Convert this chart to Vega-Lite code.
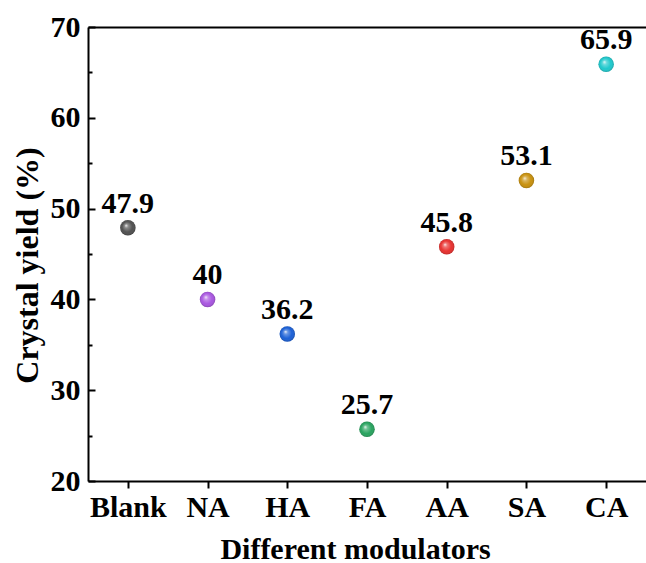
{
  "$schema": "https://vega.github.io/schema/vega-lite/v6.json",
  "autosize": {"type": "none"},
  "padding": {"left": 88, "top": 27, "right": 0, "bottom": 82},
  "width": 558,
  "height": 454,
  "background": "white",
  "config": {
    "view": {"stroke": null},
    "font": "Liberation Serif",
    "axis": {"labelFont": "Liberation Serif", "titleFont": "Liberation Serif", "labelFontWeight": "bold", "titleFontWeight": "bold", "labelColor": "black", "titleColor": "black", "domainColor": "black", "tickColor": "black", "grid": false}
  },
  "data": {"values": [
    {"modulator": "Blank", "yield": 47.9},
    {"modulator": "NA", "yield": 40},
    {"modulator": "HA", "yield": 36.2},
    {"modulator": "FA", "yield": 25.7},
    {"modulator": "AA", "yield": 45.8},
    {"modulator": "SA", "yield": 53.1},
    {"modulator": "CA", "yield": 65.9}
  ]},
  "resolve": {"axis": {"x": "independent", "y": "independent"}},
  "layer": [
    {
      "mark": {"type": "point", "filled": true, "opacity": 1, "size": 240},
      "encoding": {
        "x": {"field": "modulator", "type": "nominal", "sort": null,
          "scale": {"type": "point", "padding": 0.5},
          "axis": {"orient": "bottom", "title": "Different modulators", "labelAngle": 0, "labelFontSize": 30, "titleFontSize": 30, "domainWidth": 2, "tickWidth": 2, "tickSize": 7, "labelPadding": 4, "titlePadding": 12, "titleX": 267}},
        "y": {"field": "yield", "type": "quantitative",
          "scale": {"domain": [20, 70], "nice": false, "zero": false},
          "axis": {"orient": "left", "title": "Crystal yield (%)", "values": [20, 25, 30, 35, 40, 45, 50, 55, 60, 65, 70], "labelExpr": "datum.value % 10 === 0 ? datum.label : ''", "labelFontSize": 30, "titleFontSize": 32, "domainWidth": 2, "tickWidth": 2, "tickSize": {"condition": {"test": "datum.value % 10 === 0", "value": -7}, "value": -4}, "labelPadding": 15, "titlePadding": 6, "titleY": 238}},
        "color": {"field": "modulator", "type": "nominal", "sort": null, "legend": null,
          "scale": {"domain": ["Blank", "NA", "HA", "FA", "AA", "SA", "CA"], "range": ["#505050", "#a855e0", "#1a5fd6", "#27a35e", "#e8302e", "#c8900c", "#1ec8cc"]}}
      }
    },
    {
      "mark": {"type": "point", "filled": true, "opacity": 1, "size": 240, "fill": {"gradient": "radial", "x1": 0.38, "y1": 0.35, "r1": 0, "x2": 0.5, "y2": 0.5, "r2": 0.5, "stops": [{"offset": 0, "color": "rgba(255,255,255,0.95)"}, {"offset": 0.25, "color": "rgba(255,255,255,0.35)"}, {"offset": 0.7, "color": "rgba(255,255,255,0)"}, {"offset": 1, "color": "rgba(0,0,0,0.2)"}]}},
      "encoding": {
        "x": {"field": "modulator", "type": "nominal", "sort": null,
          "axis": {"orient": "top", "title": null, "labels": false, "ticks": false, "domainWidth": 2}},
        "y": {"field": "yield", "type": "quantitative", "axis": null}
      }
    },
    {
      "mark": {"type": "text", "fontSize": 30, "fontWeight": "bold", "font": "Liberation Serif", "baseline": "alphabetic", "dy": -15, "color": "black"},
      "encoding": {
        "x": {"field": "modulator", "type": "nominal", "sort": null, "axis": null},
        "y": {"field": "yield", "type": "quantitative", "axis": null},
        "text": {"field": "yield", "type": "quantitative", "format": "~g"}
      }
    }
  ]
}
